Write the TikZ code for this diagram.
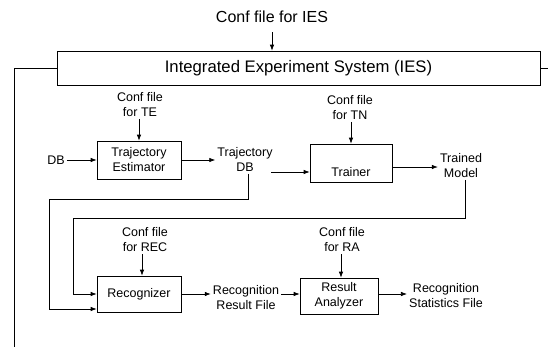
\documentclass[tikz,border=0pt]{standalone}
\usepackage{fontspec}
\setmainfont{Liberation Sans}
\usetikzlibrary{arrows.meta}
\begin{document}
\begin{tikzpicture}[x=1pt,y=-1pt,
  every node/.style={font=\fontsize{12.5}{15}\selectfont, inner sep=2pt, align=center},
  blk/.style={draw, line width=0.7pt, inner sep=0pt},
  conn/.style={line width=0.7pt},
  arr/.style={line width=0.7pt, -{Latex[length=6pt,width=4.5pt]}}
]
\useasboundingbox (0,0) rectangle (548,351);

% IES
\node (confies) at (272,17) [font=\fontsize{16}{18}\selectfont] {Conf file for IES};
\node[blk, minimum width=483pt, minimum height=34pt, font=\fontsize{16.7}{18}\selectfont] (ies) at (298.5,68) {Integrated Experiment System (IES)};
\coordinate (ieslt) at (14,68);
\coordinate (iesld) at (14,347);
\coordinate (iesr) at (548,68);
\draw[arr] (confies.south) ++(0,7) -- (confies.south |- ies.north);
\draw[conn] (ies.west) -- (ieslt) -- (iesld);
\draw[conn] (ies.east) -- (iesr);

% Trajectory estimator
\node (confte) at (140,104.5) {Conf file\\for TE};
\node[blk, minimum width=84pt, minimum height=38pt] (te) at (139,160) {Trajectory\\Estimator};
\node (db) at (56,160) {DB};
\draw[arr] (confte.south -| te.north) -- (te.north);
\draw[arr] (db.east) -- (te.west);
\node (tdb) at (245,159.5) {Trajectory\\DB};
\draw[arr] (te.east) -- (te.east -| tdb.west);

% Trainer
\node (conftn) at (350,107.5) {Conf file\\for TN};
\node[blk, minimum width=82pt, minimum height=38pt] (tr) at (351,163) {\raisebox{-13pt}[0pt][0pt]{Trainer}};
\draw[arr] (conftn.south -| tr.north) -- (tr.north);
\coordinate (tdbo) at (271,172);
\draw[arr] (tdbo) -- (tdbo -| tr.west);
\node (tm) at (461,165.5) {Trained\\Model};
\coordinate (tro) at (392,167);
\draw[arr] (tro) -- (tro -| tm.west);

% feedback lines
\coordinate (a1) at (248,199);
\coordinate (a2) at (49,199);
\coordinate (a3) at (49,309);
\coordinate (b1) at (465,218);
\coordinate (b2) at (73,218);
\coordinate (b3) at (73,294);

% Recognizer
\node (confrec) at (145,240) {Conf file\\for REC};
\node[blk, minimum width=84pt, minimum height=36pt] (rec) at (139,294) {Recognizer};
\draw[arr] (confrec.south -| 142,0) -- (rec.north -| 142,0);
\draw[arr] (tdb.south -| a1) -- (a1) -- (a2) -- (a3) -- (a3 -| rec.west);
\draw[arr] (tm.south -| b1) -- (b1) -- (b2) -- (b3) -- (b3 -| rec.west);
\node (rrf) at (246,298) {Recognition\\Result File};
\draw[arr] (rec.east) -- (rec.east -| rrf.west);

% Result analyzer
\node (confra) at (342,240) {Conf file\\for RA};
\node[blk, minimum width=78pt, minimum height=36pt] (ra) at (339,296) {Result\\Analyzer};
\draw[arr] (confra.south -| 341,0) -- (ra.north -| 341,0);
\coordinate (rrfo) at (281,294);
\draw[arr] (rrfo) -- (rrfo -| ra.west);
\node (rsf) at (446,296) {Recognition\\Statistics File};
\coordinate (rao) at (378,294);
\draw[arr] (rao) -- (rao -| rsf.west);
\end{tikzpicture}
\end{document}
